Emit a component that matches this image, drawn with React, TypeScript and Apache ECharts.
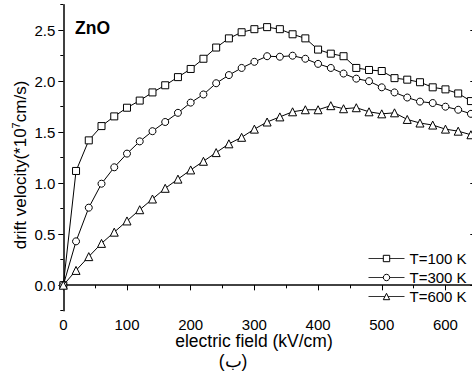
import React, { useEffect, useRef } from "react";
import * as echarts from "echarts";

const fieldKVcm = [0, 20, 40, 60, 80, 100, 120, 140, 160, 180, 200, 220, 240, 260, 280, 300, 320, 340, 360, 380, 400, 420, 440, 460, 480, 500, 520, 540, 560, 580, 600, 620, 640];
const velT100 = [0, 1.12, 1.42, 1.56, 1.655, 1.74, 1.81, 1.89, 1.96, 2.04, 2.12, 2.22, 2.33, 2.42, 2.48, 2.51, 2.53, 2.51, 2.46, 2.42, 2.31, 2.27, 2.245, 2.13, 2.11, 2.1, 2.03, 2.015, 1.99, 1.94, 1.92, 1.88, 1.805];
const velT300 = [0, 0.43, 0.76, 0.995, 1.156, 1.29, 1.41, 1.51, 1.6, 1.69, 1.79, 1.87, 1.98, 2.06, 2.13, 2.19, 2.245, 2.24, 2.25, 2.22, 2.17, 2.13, 2.075, 2.025, 2.0, 1.94, 1.89, 1.84, 1.8, 1.786, 1.75, 1.72, 1.68];
const velT600 = [0, 0.145, 0.28, 0.41, 0.52, 0.63, 0.74, 0.845, 0.95, 1.04, 1.13, 1.215, 1.3, 1.386, 1.45, 1.53, 1.6, 1.65, 1.7, 1.72, 1.72, 1.76, 1.73, 1.74, 1.7, 1.68, 1.69, 1.625, 1.59, 1.57, 1.53, 1.51, 1.475];
const seriesNames = ["T=100 K", "T=300 K", "T=600 K"];
const seriesSymbols = ["rect", "circle", "triangle"];
const yMajorTicks = [0, 0.5, 1, 1.5, 2, 2.5];

const FONT = "'Liberation Sans', Arial, sans-serif";

export default function App() {
  const ref = useRef<HTMLDivElement>(null);
  useEffect(() => {
    if (!ref.current) return;
    const chart = echarts.init(ref.current, null, { renderer: "svg" });
    const allVals = [velT100, velT300, velT600];
    const series = allVals.map((vals, i) => ({
      name: seriesNames[i],
      type: "line",
      xAxisIndex: 0,
      yAxisIndex: 0,
      data: fieldKVcm.map((x, j) => [x, vals[j]]),
      symbol: seriesSymbols[i],
      symbolSize: i === 2 ? 8 : 7,
      showSymbol: true,
      lineStyle: { color: "#000", width: 1 },
      itemStyle: { color: "#fff", borderColor: "#000", borderWidth: 1 },
      emphasis: { disabled: true },
      z: 3,
    }));
    const axisLine = { show: true, lineStyle: { color: "#000", width: 1.5 } };
    chart.setOption({
      animation: false,
      grid: { left: 63.3, top: 4.7, width: 414, height: 306, containLabel: false },
      xAxis: [
        {
          type: "value",
          position: "bottom",
          min: 0,
          max: 650,
          interval: 100,
          axisLine,
          axisTick: { show: true, inside: false, length: 5, lineStyle: { color: "#000", width: 1 } },
          minorTick: { show: true, splitNumber: 2, length: 3, lineStyle: { color: "#000", width: 1 } },
          splitLine: { show: false },
          axisLabel: {
            show: true,
            margin: 6,
            fontSize: 15,
            fontFamily: FONT,
            color: "#000",
            showMaxLabel: false,
            formatter: (v: number) => (v > 600 ? "" : String(v)),
          },
        },
        {
          type: "value",
          position: "top",
          min: 0,
          max: 650,
          interval: 100,
          axisLine: { show: true, lineStyle: { color: "#444", width: 1.5 } },
          axisTick: { show: true, inside: true, length: 5, lineStyle: { color: "#000", width: 1 } },
          minorTick: { show: true, splitNumber: 2, length: 3, lineStyle: { color: "#000", width: 1 } },
          splitLine: { show: false },
          axisLabel: { show: false },
        },
      ],
      yAxis: [
        {
          type: "value",
          position: "left",
          min: -0.25,
          max: 2.75,
          interval: 0.25,
          axisLine,
          axisTick: { show: true, inside: false, length: 5, customValues: yMajorTicks, lineStyle: { color: "#000", width: 1 } },
          splitLine: { show: false },
          axisLabel: {
            show: true,
            margin: 8,
            fontSize: 15,
            fontFamily: FONT,
            color: "#000",
            customValues: yMajorTicks,
            formatter: (v: number) => {
              const r = Math.round(v * 100) / 100;
              if (r < 0 || r > 2.5) return "";
              if (Math.abs(r * 2 - Math.round(r * 2)) > 1e-6) return "";
              return r.toFixed(1);
            },
          },
        },
        {
          type: "value",
          position: "left",
          min: -0.25,
          max: 2.75,
          interval: 0.25,
          axisLine: { show: false },
          axisTick: { show: true, inside: false, length: 3, lineStyle: { color: "#000", width: 1 } },
          splitLine: { show: false },
          axisLabel: { show: false },
        },
        {
          type: "value",
          position: "right",
          min: -0.25,
          max: 2.75,
          interval: 0.25,
          axisLine,
          axisTick: { show: true, inside: true, length: 7, customValues: yMajorTicks, lineStyle: { color: "#000", width: 1 } },
          splitLine: { show: false },
          axisLabel: { show: false },
        },
      ],
      legend: {
        show: true,
        orient: "vertical",
        left: 368,
        top: 251,
        itemWidth: 36,
        itemHeight: 8,
        itemGap: 4,
        padding: 0,
        data: seriesNames,
        lineStyle: { width: 1, color: "#333" },
        itemStyle: { borderWidth: 1, borderColor: "#000", color: "#fff" },
        textStyle: { fontSize: 15, fontFamily: FONT, color: "#000", lineHeight: 15 },
      },
      graphic: [
        {
          type: "text",
          left: 75,
          top: 19,
          style: { text: "ZnO", font: `bold 17.5px ${FONT}`, fill: "#000" },
        },
        {
          type: "text",
          x: 254,
          y: 341,
          style: {
            text: "electric field (kV/cm)",
            font: `17.5px ${FONT}`,
            fill: "#000",
            align: "center",
            verticalAlign: "middle",
          },
        },
        {
          type: "text",
          x: 233,
          y: 361,
          style: {
            text: "(ب)",
            font: `17.5px ${FONT}`,
            fill: "#000",
            align: "center",
            verticalAlign: "middle",
          },
        },
        {
          type: "text",
          x: 20,
          y: 165,
          rotation: Math.PI / 2,
          style: {
            text: "drift velocity(*10{sup|7}cm/s)",
            fontSize: 17,
            fontFamily: FONT,
            fill: "#000",
            align: "center",
            verticalAlign: "middle",
            rich: {
              sup: { fontSize: 11, fontFamily: FONT, fill: "#000", padding: [0, 0, 8, 0] },
            },
          },
        },
      ],
      series,
    });
    return () => chart.dispose();
  }, []);
  return (
    <div style={{ position: "absolute", left: 0, top: 0, width: 472, height: 374, overflow: "hidden", background: "#fff" }}>
      <div ref={ref} style={{ width: 484, height: 374 }} />
    </div>
  );
}
